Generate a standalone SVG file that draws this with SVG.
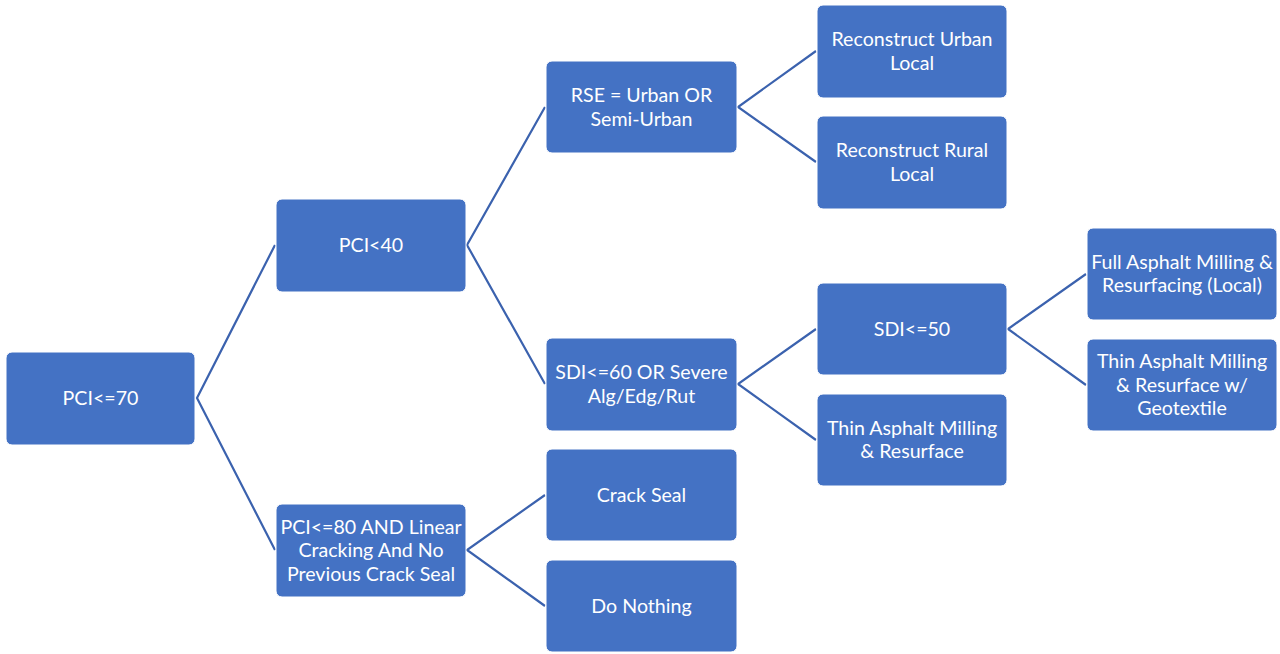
<svg xmlns="http://www.w3.org/2000/svg" width="1280" height="654" viewBox="0 0 1280 654">
<style>
.box{fill:#4472C4;stroke:#FFFFFF;stroke-width:1}
.lbl{fill:#FFFFFF;font-family:Lato,"Liberation Sans",sans-serif;font-size:19.6px;text-anchor:middle;dominant-baseline:central}
.con{stroke:#3B62AE;stroke-width:2.2;fill:none}
</style>
<rect width="1280" height="654" fill="#FFFFFF"/>
<g id="connectors">
<polyline class="con" points="275,245 197,398 275,550"/>
<polyline class="con" points="545,107 467,245 545,384"/>
<polyline class="con" points="816,51 738,107 816,162"/>
<polyline class="con" points="816,329 738,384 816,440"/>
<polyline class="con" points="1086,274 1008,329 1086,385"/>
<polyline class="con" points="545,495 467,550 545,606"/>
</g>
<g id="n_pci70"><rect class="box" x="6" y="352" width="189" height="93" rx="6"/><text class="lbl" x="100.5" y="397">PCI&lt;=70</text></g>
<g id="n_pci40"><rect class="box" x="276" y="199" width="190" height="93" rx="6"/><text class="lbl" x="371" y="244">PCI&lt;40</text></g>
<g id="n_pci80"><rect class="box" x="276" y="504" width="190" height="93" rx="6"/><text class="lbl" x="371" y="526">PCI&lt;=80 AND Linear</text><text class="lbl" x="371" y="549.5">Cracking And No</text><text class="lbl" x="371" y="573">Previous Crack Seal</text></g>
<g id="n_rse"><rect class="box" x="546" y="61" width="191" height="92" rx="6"/><text class="lbl" x="641.5" y="94.5">RSE = Urban OR</text><text class="lbl" x="641.5" y="118">Semi-Urban</text></g>
<g id="n_sdi60"><rect class="box" x="546" y="338" width="191" height="93" rx="6"/><text class="lbl" x="641.5" y="371.5">SDI&lt;=60 OR Severe</text><text class="lbl" x="641.5" y="395">Alg/Edg/Rut</text></g>
<g id="n_crack"><rect class="box" x="546" y="449" width="191" height="92" rx="6"/><text class="lbl" x="641.5" y="494">Crack Seal</text></g>
<g id="n_nothing"><rect class="box" x="546" y="560" width="191" height="92" rx="6"/><text class="lbl" x="641.5" y="605">Do Nothing</text></g>
<g id="n_urban"><rect class="box" x="817" y="5" width="190" height="93" rx="6"/><text class="lbl" x="912" y="38.5">Reconstruct Urban</text><text class="lbl" x="912" y="62">Local</text></g>
<g id="n_rural"><rect class="box" x="817" y="116" width="190" height="93" rx="6"/><text class="lbl" x="912" y="149.5">Reconstruct Rural</text><text class="lbl" x="912" y="173">Local</text></g>
<g id="n_sdi50"><rect class="box" x="817" y="283" width="190" height="92" rx="6"/><text class="lbl" x="912" y="328">SDI&lt;=50</text></g>
<g id="n_thin"><rect class="box" x="817" y="394" width="190" height="92" rx="6"/><text class="lbl" x="912" y="427">Thin Asphalt Milling</text><text class="lbl" x="912" y="450.5">&amp; Resurface</text></g>
<g id="n_full"><rect class="box" x="1087" y="228" width="190" height="92" rx="6"/><text class="lbl" x="1182" y="261">Full Asphalt Milling &amp;</text><text class="lbl" x="1182" y="284.5">Resurfacing (Local)</text></g>
<g id="n_geo"><rect class="box" x="1087" y="339" width="190" height="92" rx="6"/><text class="lbl" x="1182" y="360.5">Thin Asphalt Milling</text><text class="lbl" x="1182" y="384">&amp; Resurface w/</text><text class="lbl" x="1182" y="407.5">Geotextile</text></g>
</svg>
